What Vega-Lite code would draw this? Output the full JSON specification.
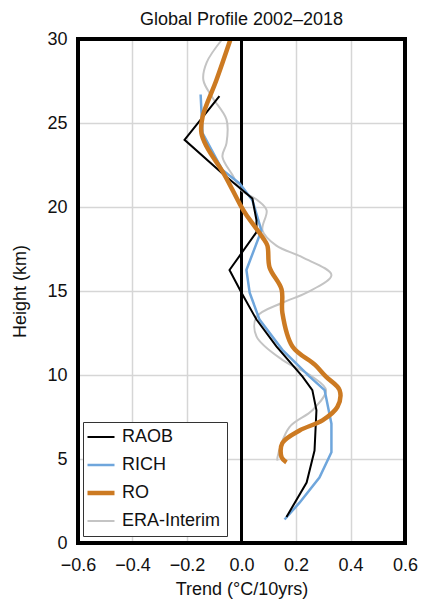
{
  "$schema": "https://vega.github.io/schema/vega-lite/v6.json",
  "width": 327,
  "height": 504,
  "autosize": {"type": "none"},
  "padding": {"left": 78, "top": 39, "right": 22, "bottom": 59},
  "background": "white",
  "config": {
    "font": "Liberation Sans",
    "view": {"stroke": null},
    "axis": {
      "labelFont": "Liberation Sans",
      "titleFont": "Liberation Sans",
      "labelFontSize": 18,
      "titleFontSize": 18,
      "titleFontWeight": "normal",
      "labelColor": "#111",
      "titleColor": "#111",
      "domain": false,
      "ticks": false,
      "gridWidth": 1.5,
      "gridOpacity": 1,
      "labelFlush": false
    },
    "legend": {
      "labelFont": "Liberation Sans",
      "labelFontSize": 18,
      "labelColor": "#111"
    },
    "title": {"font": "Liberation Sans", "fontSize": 18, "fontWeight": "normal", "color": "#111"}
  },
  "title": {"text": "Global Profile 2002–2018", "offset": 1},
  "data": {
    "values": [
      {"series": "RAOB", "trend": -0.081, "height": 26.6},
      {"series": "RAOB", "trend": -0.209, "height": 24.0},
      {"series": "RAOB", "trend": -0.07, "height": 22.0},
      {"series": "RAOB", "trend": 0.04, "height": 20.5},
      {"series": "RAOB", "trend": 0.055, "height": 19.2},
      {"series": "RAOB", "trend": 0.055, "height": 18.5},
      {"series": "RAOB", "trend": -0.044, "height": 16.25},
      {"series": "RAOB", "trend": 0.0, "height": 14.9},
      {"series": "RAOB", "trend": 0.055, "height": 13.3},
      {"series": "RAOB", "trend": 0.128, "height": 11.7},
      {"series": "RAOB", "trend": 0.224, "height": 9.9},
      {"series": "RAOB", "trend": 0.26, "height": 9.1},
      {"series": "RAOB", "trend": 0.275, "height": 7.9},
      {"series": "RAOB", "trend": 0.268, "height": 5.5},
      {"series": "RAOB", "trend": 0.239, "height": 3.6},
      {"series": "RAOB", "trend": 0.165, "height": 1.55},
      {"series": "RICH", "trend": -0.15, "height": 26.7},
      {"series": "RICH", "trend": -0.143, "height": 24.4},
      {"series": "RICH", "trend": -0.07, "height": 22.2},
      {"series": "RICH", "trend": -0.007, "height": 21.4},
      {"series": "RICH", "trend": 0.04, "height": 20.4},
      {"series": "RICH", "trend": 0.073, "height": 18.6},
      {"series": "RICH", "trend": 0.018, "height": 16.25},
      {"series": "RICH", "trend": 0.03, "height": 14.9},
      {"series": "RICH", "trend": 0.066, "height": 13.3},
      {"series": "RICH", "trend": 0.15, "height": 11.5},
      {"series": "RICH", "trend": 0.25, "height": 9.9},
      {"series": "RICH", "trend": 0.305, "height": 9.1},
      {"series": "RICH", "trend": 0.33, "height": 7.1},
      {"series": "RICH", "trend": 0.33, "height": 5.4},
      {"series": "RICH", "trend": 0.286, "height": 3.9},
      {"series": "RICH", "trend": 0.213, "height": 2.4},
      {"series": "RICH", "trend": 0.158, "height": 1.4},
      {"series": "RO", "trend": -0.04, "height": 30.0},
      {"series": "RO", "trend": -0.092, "height": 27.56},
      {"series": "RO", "trend": -0.143, "height": 25.36},
      {"series": "RO", "trend": -0.147, "height": 24.4},
      {"series": "RO", "trend": -0.128, "height": 23.6},
      {"series": "RO", "trend": -0.062, "height": 21.9},
      {"series": "RO", "trend": -0.007, "height": 20.2},
      {"series": "RO", "trend": 0.015, "height": 19.6},
      {"series": "RO", "trend": 0.077, "height": 18.2},
      {"series": "RO", "trend": 0.095, "height": 17.7},
      {"series": "RO", "trend": 0.103, "height": 16.4},
      {"series": "RO", "trend": 0.147, "height": 15.1},
      {"series": "RO", "trend": 0.15, "height": 13.7},
      {"series": "RO", "trend": 0.187, "height": 11.7},
      {"series": "RO", "trend": 0.27, "height": 10.6},
      {"series": "RO", "trend": 0.31, "height": 9.9},
      {"series": "RO", "trend": 0.36, "height": 9.1},
      {"series": "RO", "trend": 0.352, "height": 8.1},
      {"series": "RO", "trend": 0.297, "height": 7.3},
      {"series": "RO", "trend": 0.213, "height": 6.7},
      {"series": "RO", "trend": 0.15, "height": 5.95},
      {"series": "RO", "trend": 0.147, "height": 5.1},
      {"series": "RO", "trend": 0.165, "height": 4.8},
      {"series": "ERA-Interim", "trend": -0.07, "height": 30.0},
      {"series": "ERA-Interim", "trend": -0.128, "height": 28.6},
      {"series": "ERA-Interim", "trend": -0.14, "height": 27.56},
      {"series": "ERA-Interim", "trend": -0.106, "height": 26.5},
      {"series": "ERA-Interim", "trend": -0.055, "height": 25.2},
      {"series": "ERA-Interim", "trend": -0.055, "height": 23.8},
      {"series": "ERA-Interim", "trend": -0.07, "height": 23.0},
      {"series": "ERA-Interim", "trend": -0.033, "height": 21.9},
      {"series": "ERA-Interim", "trend": 0.0, "height": 21.0},
      {"series": "ERA-Interim", "trend": 0.059, "height": 20.4},
      {"series": "ERA-Interim", "trend": 0.092, "height": 19.8},
      {"series": "ERA-Interim", "trend": 0.077, "height": 18.6},
      {"series": "ERA-Interim", "trend": 0.128, "height": 17.7},
      {"series": "ERA-Interim", "trend": 0.224, "height": 17.0},
      {"series": "ERA-Interim", "trend": 0.33, "height": 15.95},
      {"series": "ERA-Interim", "trend": 0.239, "height": 14.9},
      {"series": "ERA-Interim", "trend": 0.15, "height": 14.3},
      {"series": "ERA-Interim", "trend": 0.055, "height": 13.45},
      {"series": "ERA-Interim", "trend": 0.055, "height": 12.3},
      {"series": "ERA-Interim", "trend": 0.15, "height": 10.9},
      {"series": "ERA-Interim", "trend": 0.26, "height": 9.9},
      {"series": "ERA-Interim", "trend": 0.31, "height": 9.1},
      {"series": "ERA-Interim", "trend": 0.26, "height": 7.9},
      {"series": "ERA-Interim", "trend": 0.176, "height": 6.9},
      {"series": "ERA-Interim", "trend": 0.132, "height": 5.1},
      {"series": "ERA-Interim", "trend": 0.132, "height": 4.9}
    ]
  },
  "encoding": {
    "x": {
      "field": "trend", "type": "quantitative",
      "scale": {"domain": [-0.6, 0.6], "nice": false, "zero": false},
      "axis": {
        "title": "Trend (°C/10yrs)",
        "values": [-0.6, -0.4, -0.2, 0, 0.2, 0.4, 0.6],
        "format": ".1f",
        "labelPadding": 13,
        "titlePadding": 6,
        "gridColor": {"condition": {"test": "abs(datum.value) > 0.55 || abs(datum.value) < 0.05", "value": "transparent"}, "value": "#d6d6d6"},
        "encode": {"labels": {"update": {"dy": {"signal": "datum.value > 0.55 ? -5 : 0"}}}}
      }
    },
    "y": {
      "field": "height", "type": "quantitative",
      "scale": {"domain": [0, 30], "nice": false},
      "axis": {
        "title": "Height (km)",
        "values": [0, 5, 10, 15, 20, 25, 30],
        "labelPadding": 11,
        "titlePadding": 17,
        "gridColor": {"condition": {"test": "datum.value < 1 || datum.value > 29", "value": "transparent"}, "value": "#d6d6d6"}
      }
    },
    "color": {
      "field": "series", "type": "nominal",
      "scale": {"domain": ["RAOB", "RICH", "RO", "ERA-Interim"], "range": ["#000000", "#6fa6dc", "#cc7a22", "#c4c4c4"]},
      "legend": {
        "title": null,
        "orient": "none",
        "legendX": 5,
        "legendY": 383,
        "symbolType": "stroke",
        "symbolSize": 729,
        "symbolStrokeWidth": 2,
        "symbolOffset": 3,
        "strokeColor": "#333",
        "padding": 6,
        "rowPadding": 10,
        "labelOffset": 12,
        "fillColor": "white",
        "encode": {"symbols": {"update": {"strokeWidth": {"signal": "datum.value === 'RO' ? 4.5 : (datum.value === 'RICH' ? 2.5 : 2)"}}}}
      }
    },
    "order": {"field": "height", "type": "quantitative"}
  },
  "layer": [
    {
      "mark": {"type": "rule", "color": "black", "strokeWidth": 2},
      "encoding": {"x": {"datum": 0}, "y": {"value": 0}, "y2": {"value": 504}, "color": {"value": "black"}, "order": null}
    },
    {
      "transform": [{"filter": {"field": "series", "equal": "ERA-Interim"}}],
      "mark": {"type": "line", "interpolate": "catmull-rom", "strokeWidth": 2}
    },
    {
      "transform": [{"filter": {"field": "series", "equal": "RICH"}}],
      "mark": {"type": "line", "strokeWidth": 2.5}
    },
    {
      "transform": [{"filter": {"field": "series", "equal": "RAOB"}}],
      "mark": {"type": "line", "strokeWidth": 2}
    },
    {
      "transform": [{"filter": {"field": "series", "equal": "RO"}}],
      "mark": {"type": "line", "interpolate": "catmull-rom", "strokeWidth": 4.5}
    },
    {
      "mark": {"type": "rect", "filled": false, "strokeWidth": 2.5},
      "encoding": {"x": {"datum": -0.6}, "x2": {"datum": 0.6}, "y": {"datum": 0}, "y2": {"datum": 30}, "color": {"value": "black"}, "order": null}
    }
  ]
}
